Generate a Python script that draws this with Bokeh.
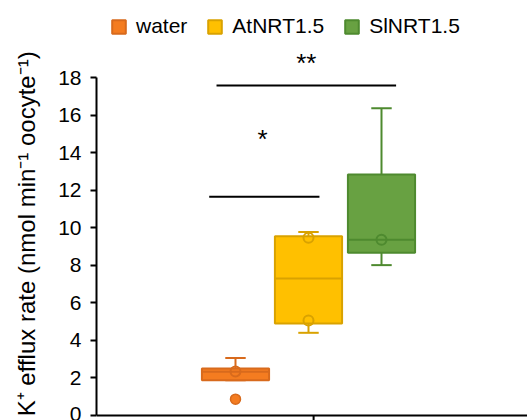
from bokeh.plotting import figure
from bokeh.models import Range1d, Span, FixedTicker, ColumnDataSource
from bokeh.core.properties import value
from bokeh.embed import file_html
from bokeh.resources import INLINE

# ---- data ----
groups = ["water", "AtNRT1.5", "SlNRT1.5"]
q1 = [1.88, 4.90, 8.68]
median = [2.33, 7.31, 9.37]
q3 = [2.51, 9.56, 12.85]
whisk_lo = [1.88, 4.41, 8.02]
whisk_hi = [3.06, 9.78, 16.39]
point_group = [0, 1, 1, 2]
point_val = [2.35, 9.48, 5.07, 9.37]
outlier_group = [0]
outlier_val = [0.87]
sig_labels = ["*", "**"]
sig_line_y = [11.66, 17.6]
sig_x0 = [-0.36, -0.26]
sig_x1 = [1.15, 2.20]
sig_text_x = [0.37, 0.97]
sig_text_y = [14.72, 18.8]
y_ticks = [0, 2, 4, 6, 8, 10, 12, 14, 16, 18]
category_tick = 1.07
y_title = "K\u207a efflux rate (nmol min\u207b\u00b9 oocyte\u207b\u00b9)"

fills = ["#F47C20", "#FFC000", "#68A142"]
lines = ["#D86A1C", "#D9A200", "#4E8A2F"]
FONT = "Liberation Sans"

xs = list(range(len(groups)))
box_w = 0.92
cap_half = 0.14

p = figure(width=527, height=420, output_backend="svg", toolbar_location=None,
           x_axis_location=None,
           x_range=Range1d(-1.904, 4.0), y_range=Range1d(-0.2667, 22.133),
           min_border_left=96, min_border_right=0, min_border_top=0, min_border_bottom=0)
p.outline_line_color = None
p.grid.visible = False
p.background_fill_color = "white"

src = ColumnDataSource(dict(x=xs, group=groups, q1=q1, q3=q3, med=median,
                            lo=whisk_lo, hi=whisk_hi, fill=fills, line=lines,
                            m0=[x - box_w / 2 for x in xs], m1=[x + box_w / 2 for x in xs],
                            c0=[x - cap_half for x in xs], c1=[x + cap_half for x in xs]))

# whiskers and caps
p.segment(x0="x", y0="q3", x1="x", y1="hi", source=src, line_color="line", line_width=2)
p.segment(x0="x", y0="q1", x1="x", y1="lo", source=src, line_color="line", line_width=2)
p.segment(x0="c0", y0="hi", x1="c1", y1="hi", source=src, line_color="line", line_width=2)
p.segment(x0="c0", y0="lo", x1="c1", y1="lo", source=src, line_color="line", line_width=2)
# boxes
p.vbar(x="x", width=box_w, top="q3", bottom="q1", source=src, fill_color="fill",
       line_color="line", line_width=2, legend_field="group")
# medians
p.segment(x0="m0", y0="med", x1="m1", y1="med", source=src, line_color="line", line_width=2)

# points (open circles)
p.scatter(x=point_group, y=point_val, size=10, marker="circle", fill_alpha=0,
          line_color=[lines[g] for g in point_group], line_width=2)
# outliers (filled)
p.scatter(x=outlier_group, y=outlier_val, size=10, marker="circle",
          fill_color=[fills[g] for g in outlier_group],
          line_color=[lines[g] for g in outlier_group], line_width=1.5)

# significance
p.segment(x0=sig_x0, y0=sig_line_y, x1=sig_x1, y1=sig_line_y, line_color="black", line_width=2)
p.text(x=sig_text_x, y=sig_text_y, text=sig_labels, text_align="center", text_baseline="middle",
       text_font=value(FONT), text_font_size="26px", text_color="black")

# x axis line and single tick
p.add_layout(Span(location=0, dimension="width", line_color="black", line_width=2))
p.segment(x0=[category_tick], y0=[0], x1=[category_tick], y1=[-0.2667], line_color="black", line_width=2)

# y axis
ya = p.yaxis[0]
ya.bounds = (0, 18)
ya.ticker = FixedTicker(ticks=y_ticks)
ya.minor_tick_line_color = None
ya.major_tick_in = 0
ya.major_tick_out = 6
ya.axis_line_width = 2
ya.major_tick_line_width = 2
ya.axis_line_color = "black"
ya.major_tick_line_color = "black"
ya.major_label_text_font = FONT
ya.major_label_text_font_size = "21px"
ya.major_label_text_color = "black"
ya.major_label_standoff = 9
# trailing no-break spaces shift the centred title down to where the reference has it
ya.axis_label = y_title + "\u00a0" * 7
ya.axis_label_text_font = FONT
ya.axis_label_text_font_size = "24px"
ya.axis_label_text_font_style = "normal"
ya.axis_label_text_color = "black"
ya.axis_label_standoff = 15

# legend
lg = p.legend[0]
lg.orientation = "horizontal"
lg.location = (14, 382)
lg.border_line_color = None
lg.background_fill_alpha = 0
lg.padding = 0
lg.margin = 0
lg.spacing = 19
lg.glyph_width = 17
lg.glyph_height = 17
lg.label_height = 17
lg.label_standoff = 9
lg.label_text_font = FONT
lg.label_text_font_size = "21px"
lg.label_text_color = "black"
lg.label_text_baseline = "middle"

open("out.html", "w").write(file_html(p, INLINE))
